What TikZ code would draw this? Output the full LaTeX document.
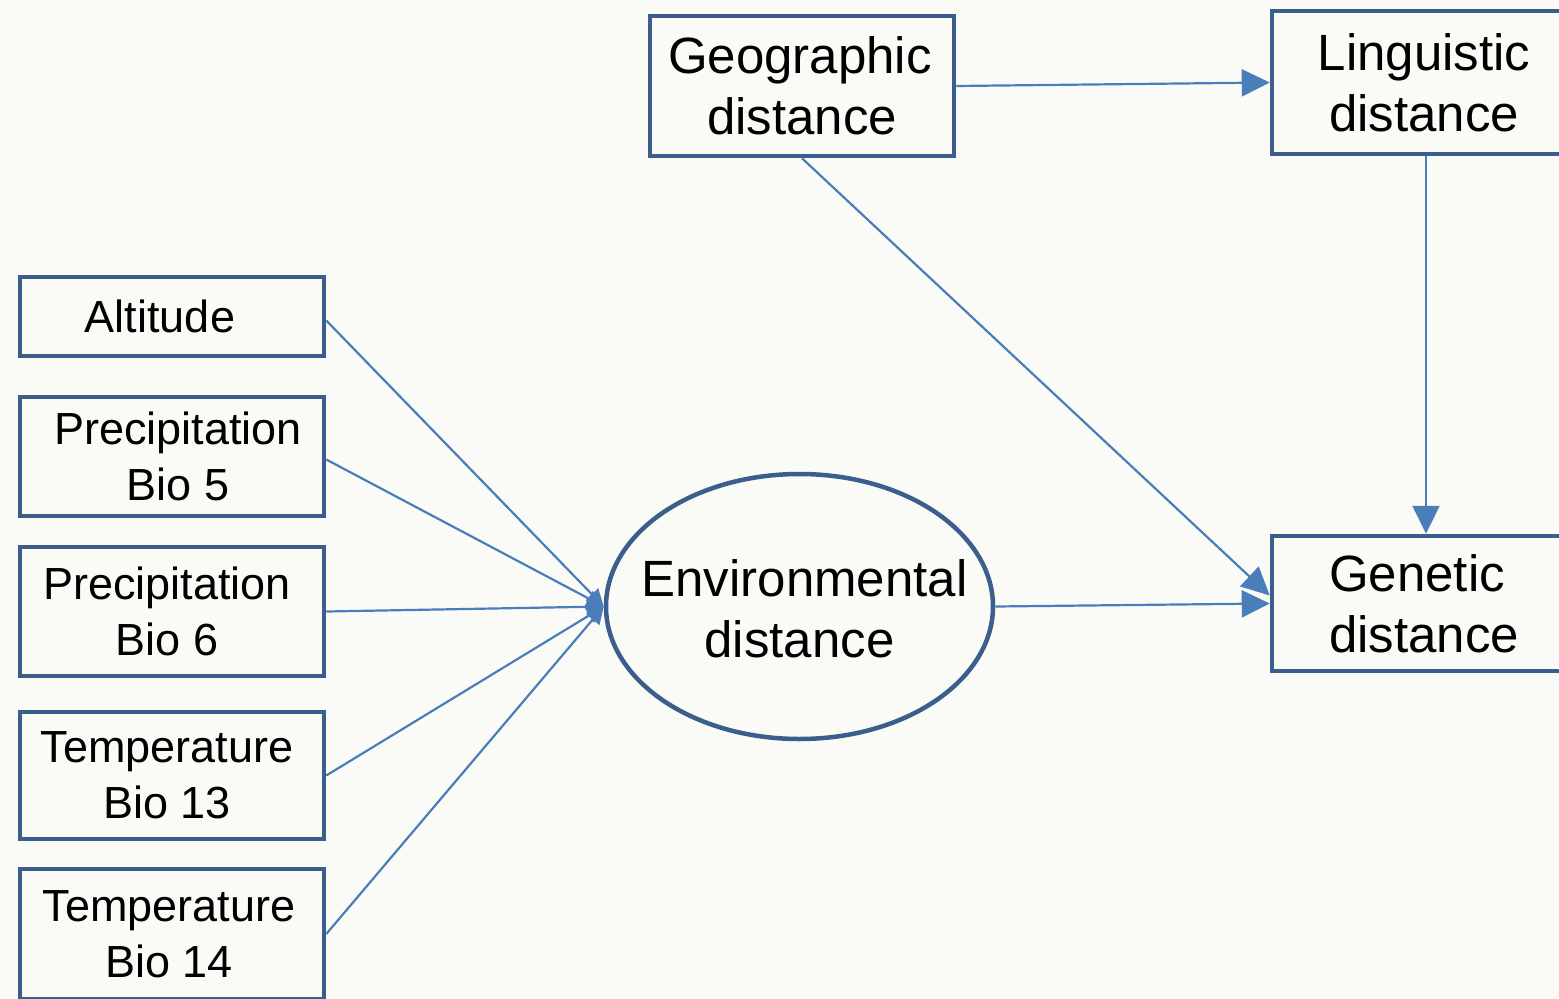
\documentclass[tikz,border=0pt]{standalone}
\usepackage{fontspec}
\setmainfont{Liberation Sans}
\usetikzlibrary{arrows.meta,shapes.geometric}
\definecolor{bgc}{HTML}{FAFBF7}
\definecolor{boxc}{HTML}{3B5E8C}
\definecolor{linec}{HTML}{4A7EBB}
\tikzset{
  bigbox/.style={draw=boxc, line width=4.5pt, rectangle, inner sep=0pt, align=center,
     font=\fontsize{51}{61}\selectfont},
  smallbox/.style={draw=boxc, line width=4.5pt, rectangle, inner sep=0pt, align=center,
     minimum width=304pt, font=\fontsize{45}{56}\selectfont},
  conn/.style={draw=linec, line width=2.2pt},
  bigtip/.style={conn, -{Triangle[length=28pt,width=27pt]}},
  smalltip/.style={conn, -{Triangle[length=17pt,width=17pt]}},
}
\begin{document}
\begin{tikzpicture}[x=1pt,y=-1pt]
\fill[bgc] (0,0) rectangle (1559,999);
\useasboundingbox (0,0) rectangle (1559,999);
\begin{scope}
\clip (0,0) rectangle (1559,999);
\node[bigbox, minimum width=304pt, minimum height=140pt] (geo) at (802,86) {\hspace*{-4pt}Geographic\\distance};
\node[bigbox, minimum width=304pt, minimum height=143pt] (ling) at (1424,82.5) {Linguistic\\distance};
\node[bigbox, minimum width=304pt, minimum height=135pt] (gen) at (1424,603.5) {\hspace*{-14pt}Genetic\\distance};
\node[draw=boxc, line width=4.5pt, ellipse, minimum width=387pt, minimum height=265pt, inner sep=0pt,
      label={[align=center, font=\fontsize{51}{61}\selectfont, yshift=-2pt]center:\hspace*{10pt}Environmental\\distance}] (env) at (799.5,606.5) {};
\node[smallbox, minimum height=79pt] (alt) at (172,316.5) {\hspace*{-24pt}Altitude};
\node[smallbox, minimum height=119pt] (b5) at (172,456.5) {\hspace*{12pt}Precipitation\\\hspace*{12pt}Bio 5};
\node[smallbox, minimum height=129pt] (b6) at (172,611.5) {\hspace*{-10pt}Precipitation\\\hspace*{-10pt}Bio 6};
\node[smallbox, minimum height=127pt] (b13) at (172,775.5) {\hspace*{-10pt}Temperature\\\hspace*{-10pt}Bio 13};
\node[smallbox, minimum height=130pt] (b14) at (172,934) {\hspace*{-6pt}Temperature\\\hspace*{-6pt}Bio 14};
\end{scope}
\draw[smalltip] ([yshift=-4pt]alt.east) -- (env.west);
\draw[smalltip] ([yshift=-3pt]b5.east) -- (env.west);
\draw[smalltip] (b6.east) -- (env.west);
\draw[smalltip] (b13.east) -- (env.west);
\draw[smalltip] (b14.east) -- (env.west);
\draw[bigtip] (geo.east) -- (ling.west);
\draw[bigtip] ([xshift=2pt]ling.south) -- ([xshift=2pt]gen.north);
\draw[bigtip] (geo.south) -- ([yshift=8pt]gen.west);
\draw[bigtip] (env.east) -- (gen.west);
\end{tikzpicture}
\end{document}
